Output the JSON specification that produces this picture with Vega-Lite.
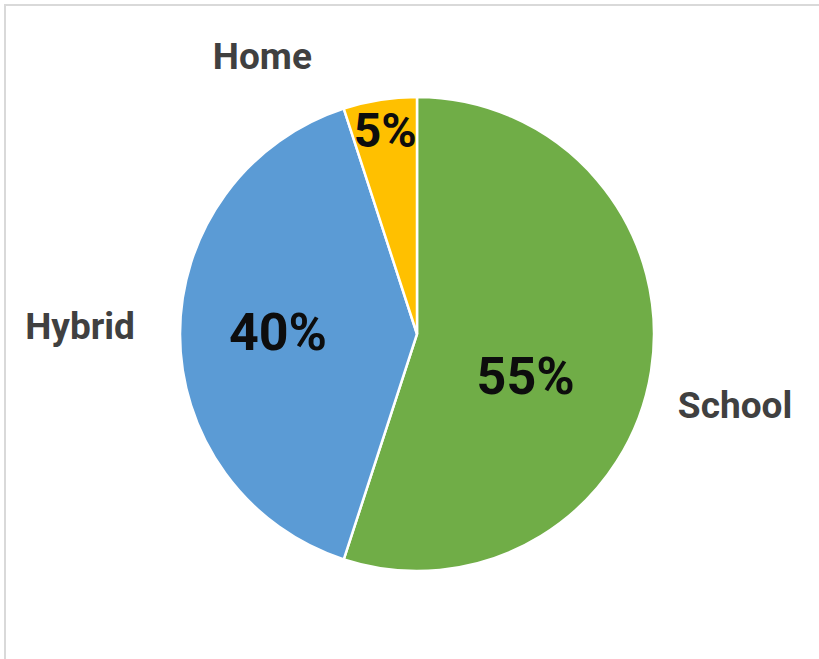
{
  "$schema": "https://vega.github.io/schema/vega-lite/v6.json",
  "autosize": "none",
  "width": 824,
  "height": 658,
  "padding": {"left": 5, "top": 5, "right": -10, "bottom": -4},
  "background": "white",
  "view": {"stroke": "#d9d9d9", "strokeWidth": 2},
  "data": {"values": [
    {"category": "School", "value": 55, "pct": "55%", "rank": 1},
    {"category": "Hybrid", "value": 40, "pct": "40%", "rank": 2},
    {"category": "Home", "value": 5, "pct": "5%", "rank": 3}
  ]},
  "encoding": {
    "theta": {"field": "value", "type": "quantitative", "stack": true},
    "order": {"field": "rank", "type": "quantitative"},
    "detail": {"field": "category", "type": "nominal"}
  },
  "layer": [
    {
      "mark": {"type": "arc", "outerRadius": 237, "stroke": "white", "strokeWidth": 2.5},
      "encoding": {
        "color": {"field": "category", "type": "nominal", "legend": null,
          "scale": {"domain": ["School", "Hybrid", "Home"], "range": ["#70AD47", "#5B9BD5", "#FFC000"]}}
      }
    },
    {
      "mark": {"type": "text", "radius": 110, "dy": 27, "font": "Roboto", "fontWeight": "bold", "fontSize": 52, "fill": "#0d0d0d"},
      "encoding": {"text": {"condition": {"test": "datum.category === 'School'", "field": "pct"}, "value": ""}}
    },
    {
      "mark": {"type": "text", "radius": 139, "font": "Roboto", "fontWeight": "bold", "fontSize": 52, "fill": "#0d0d0d"},
      "encoding": {"text": {"condition": {"test": "datum.category === 'Hybrid'", "field": "pct"}, "value": ""}}
    },
    {
      "mark": {"type": "text", "radius": 203, "font": "Roboto", "fontWeight": "bold", "fontSize": 48, "fill": "#0d0d0d"},
      "encoding": {"text": {"condition": {"test": "datum.category === 'Home'", "field": "pct"}, "value": ""}}
    },
    {
      "mark": {"type": "text", "radius": 322, "dy": 23, "font": "Roboto", "fontWeight": "bold", "fontSize": 37, "fill": "#404040"},
      "encoding": {"text": {"condition": {"test": "datum.category === 'School'", "field": "category"}, "value": ""}}
    },
    {
      "mark": {"type": "text", "radius": 337, "dy": -6, "font": "Roboto", "fontWeight": "bold", "fontSize": 37, "fill": "#404040"},
      "encoding": {"text": {"condition": {"test": "datum.category === 'Hybrid'", "field": "category"}, "value": ""}}
    },
    {
      "mark": {"type": "text", "radius": 279, "dx": -111, "font": "Roboto", "fontWeight": "bold", "fontSize": 37, "fill": "#404040"},
      "encoding": {"text": {"condition": {"test": "datum.category === 'Home'", "field": "category"}, "value": ""}}
    }
  ]
}
